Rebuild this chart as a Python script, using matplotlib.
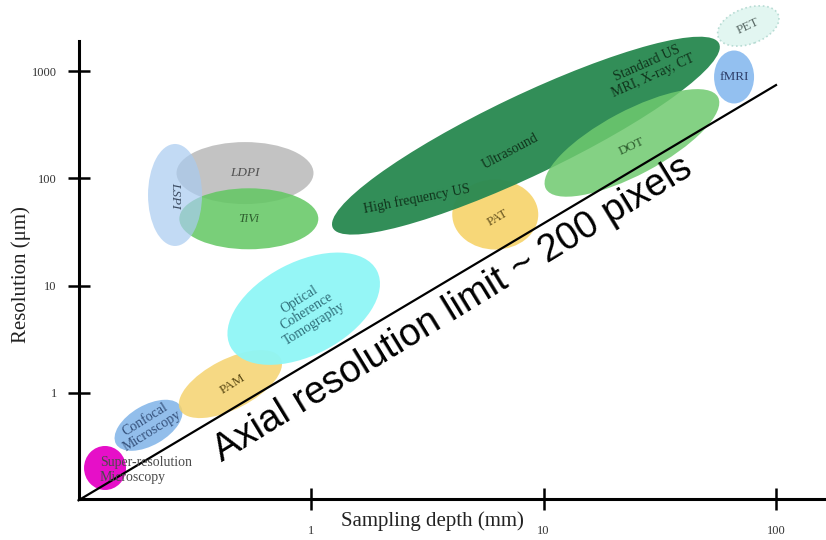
import matplotlib
matplotlib.use("Agg")
import matplotlib.pyplot as plt
from matplotlib.patches import Ellipse
from matplotlib.transforms import ScaledTranslation

plt.rcParams['font.family'] = ['Liberation Serif', 'DejaVu Serif']

# imaging techniques: typical sampling depth (mm) and resolution (um) at blob centre
techniques = ["Super-resolution Microscopy", "Confocal Microscopy", "PAM", "OCT",
              "LDPI", "TiVi", "LSPI", "PAT", "Ultrasound", "DOT", "fMRI", "PET"]
depth_mm = [0.13, 0.20, 0.45, 0.93, 0.52, 0.54, 0.26, 6.2, 8.4, 24.0, 66.0, 76.0]
resolution_um = [0.20, 0.50, 1.21, 6.1, 112, 42, 70, 46, 250, 214, 880, 2630]

# resolution limit line
limit_depth = [0.1, 100]
limit_res = [0.1, 740]

x_ticks = [1, 10, 100]
y_ticks = [1, 10, 100, 1000]

# blob look (size in px, angle in deg)
blob_w = [42, 75, 113, 165, 137, 139, 54, 86, 428, 195, 40, 64]
blob_h = [44, 40, 50, 93, 62, 61, 102, 70, 80, 64, 53, 36]
blob_ang = [0, 30, 27, 27.5, 0, 0, 0, 0, 25.5, 28, 0, 20]
blob_col = ['#e60fc8', '#8cbbea', '#f5d36e', '#8ff6f6', '#bdbdbd', '#62c762',
            '#a9cbf0', '#f7d778', '#2b8a52', '#6fc96f', '#8dbdf0', '#e2f6f1']
blob_alpha = [1, 0.95, 0.85, 0.95, 0.9, 0.85, 0.7, 1, 0.97, 0.85, 0.95, 1]

# labels: text, blob index, offset (px), rotation, colour, style, alignment
labels = [
    ("Super-resolution\nMicroscopy", 0, (-5, 2), 0, '#4a4a4a', 'normal', 'left'),
    ("Confocal\nMicroscopy", 1, (0, 0), 32, '#34507a', 'normal', 'center'),
    ("PAM", 2, (2, 0), 32, '#5c4a14', 'normal', 'center'),
    ("Optical\nCoherence\nTomography", 3, (3, 3), 32, '#2f6f7a', 'normal', 'center'),
    ("LDPI", 4, (0, 0), 0, '#505050', 'italic', 'center'),
    ("TiVi", 5, (0, 0), 0, '#2f5f2f', 'italic', 'center'),
    ("LSPI", 6, (0, 0), -90, '#3a4a60', 'italic', 'center'),
    ("PAT", 7, (2, 3), 30, '#6a5620', 'normal', 'center'),
    ("High frequency US", 8, (-109, 63), 11, '#10341c', 'normal', 'center'),
    ("Ultrasound", 8, (-16, 16), 28, '#10341c', 'normal', 'center'),
    ("Standard US\nMRI, X-ray, CT", 8, (124, -66), 24, '#10341c', 'normal', 'center'),
    ("DOT", 9, (0, 4), 25, '#2f5f2f', 'normal', 'center'),
    ("fMRI", 10, (0, 0), 0, '#2f3f6a', 'normal', 'center'),
    ("PET", 11, (0, 0), 25, '#5a6a66', 'normal', 'center'),
]

fig = plt.figure(figsize=(8.26, 5.40), dpi=100)
ax = fig.add_axes([79 / 826, 41 / 540, 747 / 826, 458 / 540])
ax.set_xscale('log')
ax.set_yscale('log')
ax.set_xlim(10 ** -0.998, 10 ** 2.215)
ax.set_ylim(10 ** -0.988, 10 ** 3.28)

for i in range(len(techniques)):
    tr = fig.dpi_scale_trans + ScaledTranslation(depth_mm[i], resolution_um[i], ax.transData)
    ls = ':' if techniques[i] == "PET" else '-'
    ec = '#b8dcd4' if techniques[i] == "PET" else 'none'
    e = Ellipse((0, 0), blob_w[i] / 100, blob_h[i] / 100, angle=blob_ang[i],
                transform=tr, facecolor=blob_col[i], edgecolor=ec, linestyle=ls,
                lw=1.2, alpha=blob_alpha[i], clip_on=False, zorder=2)
    ax.add_patch(e)

for txt, idx, off, rot, col, sty, ha in labels:
    ax.annotate(txt, (depth_mm[idx], resolution_um[idx]),
                xytext=(off[0] * 0.72, -off[1] * 0.72), textcoords='offset points',
                ha=ha, va='center', rotation=rot, rotation_mode='anchor',
                fontsize=10 if len(txt) > 4 else 9.5, color=col, style=sty,
                linespacing=1.15, zorder=4, annotation_clip=False)

ax.plot(limit_depth, limit_res, color='black', lw=1.6, zorder=3, clip_on=False)
ax.text(0.414, 0.226, "Axial resolution limit ~ 200 pixels", family='Liberation Sans',
        fontsize=27.5, rotation=31.4, rotation_mode='anchor', ha='left', va='baseline',
        zorder=5)

for s in ['top', 'right']:
    ax.spines[s].set_visible(False)
for s in ['left', 'bottom']:
    ax.spines[s].set_linewidth(2.2)

ax.set_xticks(x_ticks)
ax.set_xticklabels([str(v) for v in x_ticks])
ax.set_yticks(y_ticks)
ax.set_yticklabels([str(v) for v in y_ticks])
ax.minorticks_off()
ax.tick_params(direction='inout', length=16, width=1.8, labelsize=9, labelcolor='#333333')
ax.tick_params(axis='x', pad=11)
ax.tick_params(axis='y', pad=8)

ax.set_xlabel("Sampling depth (mm)", fontsize=15, color='#222222')
ax.set_ylabel("Resolution (μm)", fontsize=15, color='#222222')
ax.xaxis.set_label_coords(0.4726, -0.026)
ax.yaxis.set_label_coords(-0.064, 0.491)

fig.savefig("out.png", dpi=100)
